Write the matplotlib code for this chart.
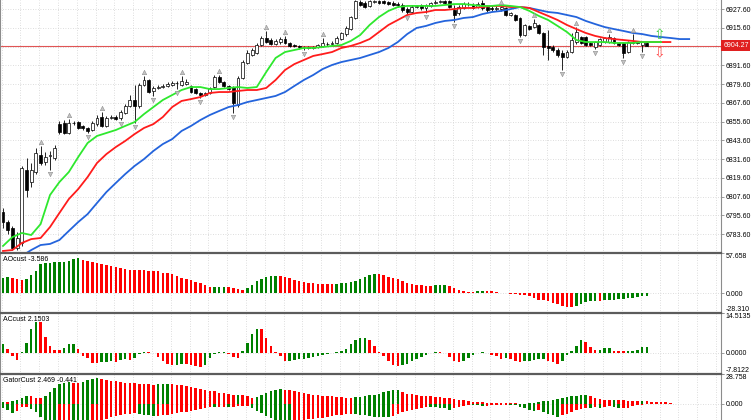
import numpy as np
import matplotlib.pyplot as plt
from matplotlib.transforms import blended_transform_factory

plt.rcParams['font.family'] = ['Liberation Sans', 'DejaVu Sans']

# ---------------- data ----------------
opens = [6797.7, 6791.3, 6787.5, 6774.7, 6777.9, 6824.6, 6816.9, 6823.3, 6834.2, 6829.7,
         6833.6, 6832.3, 6854.0, 6854.7, 6848.3, 6854.7, 6855.3, 6852.8, 6851.5, 6850.2,
         6854.0, 6858.5, 6852.8, 6857.9, 6858.5, 6857.9, 6861.1, 6865.6, 6869.4, 6865.6,
         6879.0, 6882.2, 6875.2, 6877.1, 6877.7, 6878.4, 6879.0, 6880.3, 6879.0, 6879.6,
         6878.4, 6876.4, 6873.9, 6872.6, 6873.9, 6877.7, 6884.1, 6880.9, 6878.4, 6877.7,
         6866.2, 6883.5, 6893.1, 6898.2, 6899.5, 6904.6, 6909.1, 6907.8, 6905.2, 6906.5,
         6908.4, 6905.9, 6904.6, 6904.0, 6903.3, 6903.3, 6902.7, 6903.3, 6904.0, 6905.2,
         6905.2, 6905.9, 6908.4, 6911.6, 6914.8, 6921.9, 6932.1, 6931.5, 6929.6, 6932.1,
         6932.8, 6932.8, 6932.1, 6931.5, 6930.8, 6930.2, 6927.6, 6925.7, 6928.9, 6930.2,
         6928.3, 6929.6, 6931.5, 6932.1, 6932.8, 6932.8, 6927.0, 6925.1, 6928.3, 6930.8,
         6930.2, 6928.9, 6931.5, 6928.9, 6928.3, 6927.6, 6927.6, 6928.3, 6923.8, 6923.8,
         6921.9, 6911.0, 6916.8, 6916.1, 6917.4, 6912.3, 6904.0, 6903.3, 6901.4, 6899.5,
         6896.9, 6900.1, 6906.5, 6909.7, 6909.7, 6905.9, 6903.3, 6904.6, 6906.5, 6906.5,
         6909.1, 6905.9, 6905.9, 6900.1, 6905.9, 6906.5, 6904.6, 6905.9]
highs = [6800.3, 6792.6, 6788.8, 6784.9, 6827.2, 6832.3, 6829.1, 6838.7, 6840.0, 6836.1,
         6836.8, 6840.6, 6856.0, 6856.6, 6857.2, 6856.0, 6856.0, 6853.4, 6852.1, 6856.0,
         6859.8, 6861.7, 6859.2, 6859.8, 6859.8, 6863.0, 6866.8, 6872.6, 6879.0, 6880.3,
         6884.8, 6882.8, 6878.4, 6879.0, 6879.6, 6880.9, 6881.6, 6881.6, 6884.8, 6882.8,
         6879.0, 6877.1, 6874.5, 6874.5, 6877.7, 6885.4, 6885.4, 6881.6, 6879.0, 6878.4,
         6884.8, 6895.0, 6901.4, 6902.7, 6905.9, 6910.4, 6913.6, 6909.1, 6908.4, 6909.7,
         6910.4, 6906.5, 6905.2, 6904.6, 6904.0, 6904.0, 6904.0, 6905.2, 6909.1, 6906.5,
         6907.2, 6910.4, 6912.9, 6916.8, 6923.2, 6933.4, 6933.4, 6932.8, 6933.4, 6933.4,
         6933.4, 6933.4, 6932.8, 6932.8, 6932.1, 6931.5, 6928.9, 6930.2, 6930.2, 6930.8,
         6930.8, 6932.1, 6933.4, 6933.4, 6933.4, 6933.4, 6930.2, 6930.2, 6932.1, 6932.1,
         6931.5, 6932.1, 6933.4, 6930.2, 6929.6, 6929.6, 6929.6, 6928.9, 6925.7, 6924.4,
         6922.5, 6918.0, 6917.4, 6921.2, 6918.0, 6912.9, 6914.2, 6904.6, 6902.7, 6901.4,
         6901.4, 6912.3, 6916.1, 6910.4, 6910.4, 6906.5, 6907.2, 6909.1, 6909.7, 6911.6,
         6909.7, 6906.5, 6906.5, 6907.2, 6911.6, 6907.2, 6907.2, 6906.5]
lows = [6787.5, 6783.6, 6773.4, 6773.4, 6776.0, 6807.3, 6813.7, 6822.0, 6827.8, 6827.8,
        6824.6, 6831.0, 6847.6, 6847.6, 6847.6, 6853.4, 6850.8, 6850.2, 6848.3, 6849.6,
        6852.8, 6852.1, 6852.1, 6857.2, 6856.6, 6856.6, 6860.4, 6864.9, 6854.7, 6864.3,
        6878.4, 6873.9, 6872.0, 6876.4, 6877.1, 6877.7, 6878.4, 6876.4, 6878.4, 6879.0,
        6873.9, 6873.2, 6870.7, 6872.0, 6873.2, 6877.1, 6880.3, 6877.7, 6875.8, 6861.1,
        6864.9, 6882.8, 6892.4, 6897.6, 6898.8, 6904.0, 6905.9, 6904.6, 6904.6, 6905.2,
        6905.2, 6903.3, 6903.3, 6902.0, 6901.4, 6902.0, 6902.0, 6902.7, 6903.3, 6904.0,
        6904.6, 6905.2, 6907.8, 6910.4, 6914.2, 6921.2, 6929.6, 6928.3, 6928.9, 6931.5,
        6930.8, 6930.8, 6930.2, 6929.6, 6928.9, 6925.7, 6924.4, 6925.1, 6928.3, 6927.0,
        6925.1, 6928.9, 6930.8, 6931.5, 6930.8, 6928.3, 6919.3, 6923.8, 6927.6, 6929.6,
        6927.6, 6928.3, 6927.0, 6925.7, 6926.4, 6926.4, 6926.4, 6923.2, 6923.2, 6920.0,
        6909.7, 6910.4, 6914.2, 6915.5, 6911.6, 6898.2, 6895.0, 6900.1, 6896.9, 6888.6,
        6896.3, 6899.5, 6905.2, 6905.2, 6904.0, 6904.0, 6902.0, 6904.0, 6905.9, 6905.9,
        6905.2, 6904.0, 6896.3, 6899.5, 6905.2, 6905.2, 6900.1, 6904.0]
closes = [6791.3, 6786.2, 6774.7, 6781.1, 6825.9, 6811.8, 6824.6, 6835.5, 6829.1, 6832.9,
          6834.2, 6838.7, 6848.9, 6848.3, 6854.7, 6854.5, 6851.5, 6851.5, 6849.6, 6854.7,
          6857.9, 6852.8, 6857.9, 6858.5, 6857.2, 6861.7, 6865.6, 6869.4, 6865.6, 6879.0,
          6882.2, 6874.5, 6877.1, 6877.7, 6878.4, 6879.6, 6880.3, 6880.2, 6881.6, 6880.9,
          6874.5, 6873.9, 6872.6, 6873.9, 6877.1, 6884.1, 6880.9, 6878.4, 6876.4, 6867.5,
          6883.5, 6893.7, 6899.5, 6901.4, 6904.6, 6909.1, 6906.5, 6905.2, 6907.2, 6908.4,
          6905.9, 6904.0, 6904.0, 6903.3, 6903.2, 6902.7, 6903.3, 6904.6, 6905.9, 6905.3,
          6905.9, 6909.1, 6912.3, 6915.5, 6922.5, 6932.8, 6930.2, 6928.9, 6932.8, 6932.8,
          6931.5, 6931.5, 6930.8, 6930.2, 6930.2, 6927.0, 6925.7, 6928.9, 6929.6, 6928.3,
          6930.2, 6931.5, 6932.1, 6932.8, 6931.5, 6928.9, 6923.8, 6928.9, 6930.8, 6930.7,
          6928.3, 6930.8, 6928.3, 6927.0, 6927.6, 6928.3, 6928.9, 6923.8, 6925.1, 6920.6,
          6911.0, 6917.4, 6914.8, 6918.7, 6912.3, 6903.3, 6902.7, 6901.4, 6898.2, 6896.9,
          6900.1, 6907.8, 6912.9, 6905.9, 6904.6, 6904.6, 6906.5, 6908.4, 6909.1, 6909.7,
          6905.9, 6904.6, 6899.5, 6906.5, 6906.5, 6905.9, 6906.5, 6904.27]

fractal_up = [8, 14, 21, 30, 38, 46, 56, 60, 68, 106, 113, 122, 129, 134]
fractal_dn = [10, 18, 25, 28, 32, 37, 42, 49, 64, 86, 90, 96, 110, 119, 126, 132, 136]

# alligator lines, sampled every 2nd bar (lips/teeth from bar 0, jaw from bar 4)
lips = [6776.0, 6781.7, 6784.3, 6783.0, 6790.0, 6808.6, 6816.9, 6823.3, 6832.9, 6841.9,
        6846.4, 6848.3, 6850.2, 6852.8, 6855.3, 6860.4, 6864.9, 6869.4, 6872.6, 6875.8,
        6877.7, 6877.7, 6876.4, 6876.4, 6877.1, 6877.7, 6877.1, 6877.7, 6887.3, 6896.3,
        6900.1, 6901.4, 6902.7, 6902.7, 6903.3, 6904.0, 6904.6, 6907.2, 6911.0, 6917.4,
        6922.5, 6926.4, 6928.9, 6929.6, 6929.6, 6929.6, 6929.6, 6930.2, 6930.8, 6930.8,
        6930.2, 6929.6, 6929.6, 6930.2, 6929.6, 6928.9, 6926.4, 6923.2, 6920.6, 6916.8,
        6912.9, 6907.8, 6906.5, 6906.5, 6906.5, 6905.9, 6905.9, 6905.9, 6906.5, 6906.5,
        6906.5]
teeth = [6772.8, 6773.4, 6777.9, 6780.4, 6781.1, 6788.1, 6797.1, 6806.0, 6812.4, 6820.1,
         6829.1, 6834.8, 6839.3, 6843.2, 6847.6, 6851.5, 6854.0, 6858.5, 6864.9, 6868.8,
         6870.0, 6871.3, 6873.9, 6874.5, 6874.5, 6875.2, 6875.8, 6875.8, 6877.1, 6882.2,
         6888.6, 6892.4, 6895.0, 6897.6, 6898.8, 6900.1, 6902.7, 6904.0, 6905.9, 6908.4,
         6912.9, 6917.4, 6920.6, 6923.8, 6925.1, 6925.7, 6927.0, 6927.0, 6927.6, 6928.3,
         6928.3, 6928.9, 6929.6, 6929.6, 6928.9, 6928.9, 6928.3, 6925.7, 6923.2, 6920.6,
         6917.4, 6914.8, 6912.3, 6910.4, 6909.1, 6908.4, 6907.8, 6907.2, 6906.5, 6906.5,
         6906.5, 6906.5]
jaw = [6769.6, 6773.4, 6776.6, 6777.3, 6779.8, 6785.6, 6791.3, 6796.4, 6803.5, 6810.5,
       6816.3, 6822.0, 6827.2, 6831.6, 6836.8, 6841.2, 6844.4, 6849.6, 6852.8, 6856.6,
       6859.8, 6862.4, 6864.9, 6866.2, 6868.1, 6869.4, 6870.7, 6872.0, 6874.5, 6878.4,
       6882.2, 6885.4, 6889.2, 6891.8, 6893.7, 6895.0, 6896.3, 6898.2, 6900.1, 6902.7,
       6906.5, 6911.6, 6915.5, 6916.8, 6918.7, 6920.0, 6920.6, 6921.9, 6922.5, 6924.4,
       6925.7, 6926.4, 6927.6, 6928.9, 6928.3, 6927.0, 6925.7, 6925.1, 6923.8, 6922.5,
       6920.0, 6918.0, 6916.1, 6914.8, 6913.6, 6912.3, 6911.6, 6910.4, 6909.7, 6909.1,
       6908.4, 6908.4]

ao = [22.3, 23.7, 22.3, 19.8, 18.9, 20.8, 25.7, 32.0, 41.7, 43.1,
      43.5, 44.1, 44.3, 45.1, 46.6, 49.0, 50.0, 48.0, 46.1, 45.1,
      43.1, 41.7, 40.2, 39.3, 38.3, 36.3, 34.4, 33.4, 32.9, 32.7,
      32.6, 32.5, 32.4, 31.5, 29.5, 28.6, 27.1, 24.7, 22.3, 20.8,
      18.9, 15.9, 14.0, 12.5, 9.1, 9.3, 9.5, 9.6, 9.4, 7.7,
      6.2, 5.2, 7.7, 12.5, 17.4, 20.8, 23.7, 24.7, 24.8, 24.6,
      23.2, 21.8, 18.9, 17.4, 15.9, 15.0, 14.0, 13.9, 13.0, 12.9,
      12.8, 13.0, 14.0, 15.0, 15.9, 17.4, 19.8, 23.7, 25.7, 27.6,
      27.1, 25.7, 23.7, 21.8, 19.8, 16.9, 15.0, 13.0, 12.1, 11.1,
      10.8, 10.6, 11.1, 11.6, 11.8, 10.1, 7.7, 5.2, 2.8, 2.3,
      1.4, 2.8, 3.3, 3.1, 2.8, 1.4, 0.4, -0.1, -0.6, -1.1,
      -2.0, -3.0, -4.5, -6.9, -9.3, -10.3, -11.8, -14.2, -15.6, -18.1,
      -19.0, -20.0, -18.1, -15.1, -13.2, -11.8, -11.3, -11.8, -10.3, -9.3,
      -9.1, -8.8, -8.4, -7.4, -6.4, -5.4, -4.6, -3.6]
ac = [3.0, 1.4, -1.4, -2.6, 0.2, 3.6, 8.8, 11.4, 11.3, 5.8,
      2.4, 1.1, 0.9, 1.7, 3.0, 3.3, 1.4, -1.1, -2.0, -3.8,
      -3.9, -3.6, -3.3, -3.2, -3.4, -2.8, -2.5, -2.8, -2.0, -0.6,
      0.2, 0.1, -0.2, -1.5, -3.0, -4.3, -4.6, -4.4, -4.1, -4.3,
      -4.6, -5.0, -5.3, -4.5, -1.8, -0.6, 0.2, 0.4, -0.6, -1.7,
      -1.8, 0.6, 3.5, 6.8, 8.8, 8.6, 5.5, 2.3, 0.2, -1.2,
      -3.0, -2.9, -2.8, -2.5, -2.3, -2.0, -1.7, -1.2, -0.8, -0.4,
      -0.3, 0.2, 0.5, 1.5, 3.0, 4.6, 5.3, 5.5, 4.8, 2.4,
      0.1, -1.3, -3.0, -4.5, -4.8, -4.6, -4.0, -3.0, -2.2, -1.5,
      -1.0, -0.3, 0.4, 0.1, -0.3, -1.5, -3.0, -3.3, -3.0, -2.0,
      -0.8, 0.0, 0.3, -0.2, -0.8, -1.3, -2.3, -2.0, -2.3, -3.0,
      -3.4, -3.2, -3.0, -2.8, -2.4, -2.2, -3.0, -3.4, -4.3, -3.0,
      -1.0, 0.5, 2.4, 4.6, 3.8, 2.2, 0.8, 0.9, 1.6, 1.7,
      0.7, 0.6, 0.5, 0.55, 0.7, 0.8, 2.1, 2.15]
gator_up = [2.3, 2.0, 2.5, 3.5, 6.0, 7.6, 7.3, 5.8, 5.6, 8.0,
            11.5, 15.5, 18.8, 20.4, 20.7, 20.6, 20.5, 21.5, 23.0, 24.3,
            24.7, 24.3, 23.4, 22.5, 21.6, 21.0, 20.5, 20.1, 19.8, 19.5,
            19.2, 19.0, 18.6, 18.9, 19.2, 19.4, 19.1, 18.5, 17.8, 17.0,
            16.3, 15.5, 14.6, 13.8, 12.9, 12.0, 11.0, 10.1, 9.3, 8.6,
            8.8, 8.2, 7.4, 6.0, 6.8, 8.5, 10.3, 12.0, 13.2, 14.0,
            13.6, 13.3, 12.5, 11.6, 10.7, 9.9, 9.1, 8.5, 8.0, 7.6,
            7.2, 6.8, 6.5, 6.0, 5.6, 6.3, 7.0, 7.6, 8.2, 9.0,
            10.0, 11.2, 12.2, 13.0, 13.3, 11.5, 10.0, 9.5, 8.8, 8.0,
            7.6, 7.3, 6.8, 6.3, 5.9, 5.5, 5.0, 4.3, 3.5, 2.8,
            2.3, 1.8, 1.5, 1.3, 1.2, 1.0, 0.9, 0.8, 0.7, 0.6,
            0.4, 0.3, 0.5, 1.3, 2.0, 2.5, 3.3, 4.0, 5.0, 5.8,
            6.6, 7.4, 8.0, 8.3, 8.5, 7.6, 6.0, 4.6, 4.3, 4.0,
            4.2, 3.6, 3.4, 3.2, 3.0, 2.6, 3.0, 2.5, 2.2, 2.0,
            1.9, 1.6, 1.4]
gator_dn = [-4.0, -6.0, -8.3, -7.0, -3.0, -2.6, -5.0, -8.0, -12.0, -16.5,
            -20.0, -21.0, -21.0, -20.0, -19.5, -20.0, -20.5, -21.5, -21.8, -20.0,
            -18.0, -16.0, -14.0, -12.5, -11.5, -10.5, -10.0, -9.5, -9.0, -9.5,
            -10.5, -11.0, -11.5, -11.5, -11.0, -10.5, -9.5, -8.5, -8.0, -7.5,
            -6.5, -5.5, -4.5, -3.5, -3.0, -3.3, -3.0, -2.6, -3.0, -2.5,
            -2.3, -2.0, -1.6, -4.0, -6.5, -9.0, -11.5, -13.5, -15.0, -15.5,
            -16.0, -16.5, -16.3, -15.8, -15.0, -14.5, -14.0, -13.5, -13.0, -12.3,
            -11.5, -11.0, -10.3, -9.6, -9.2, -9.8, -10.5, -11.0, -11.5, -12.0,
            -12.3, -12.6, -12.8, -11.2, -9.5, -7.8, -6.6, -5.4, -4.4, -3.4,
            -2.7, -2.9, -3.1, -3.5, -4.3, -5.3, -4.3, -2.7, -1.7, -1.0,
            -1.1, -1.2, -1.9, -1.5, -1.0, -0.8, -0.6, -0.5, -0.6, -1.2,
            -2.5, -4.0, -6.0, -6.6, -6.0, -7.6, -9.3, -11.0, -12.0, -11.0,
            -9.3, -7.6, -5.3, -4.5, -3.5, -3.7, -3.3, -3.4, -2.6, -2.3,
            -3.3, -4.3, -4.3, -3.6, -2.0, -1.2, -0.8, -0.441]

price_ticks = [6927.60, 6915.60, 6891.60, 6879.60, 6867.60, 6855.60, 6843.60,
               6831.60, 6819.60, 6807.60, 6795.60, 6783.60]
price_grid = [6927.60, 6915.60, 6903.60, 6891.60, 6879.60, 6867.60, 6855.60,
              6843.60, 6831.60, 6819.60, 6807.60, 6795.60, 6783.60]
last_price = 6904.27
signal_bar = 139.6
signal_up_price = 6911.3
signal_dn_price = 6899.8

ao_label, ao_range = 'AOcust -3.586', (-28.310, 57.658)
ac_label, ac_range = 'ACcust 2.1503', (-7.8122, 14.5135)
gator_label, gator_range = 'GatorCust 2.469 -0.441', (-15.34, 28.758)
ao_ticks = [57.658, 0.0, -28.310]
ao_tick_labels = ['57.658', '0.000', '-28.310']
ac_ticks = [14.5135, 0.0, -7.8122]
ac_tick_labels = ['14.5135', '0.0000', '-7.8122']
gator_ticks = [28.758, 0.0]
gator_tick_labels = ['28.758', '0.000']

# ---------------- figure ----------------
W, H = 752, 420
fig = plt.figure(figsize=(W / 100, H / 100), dpi=100)
fig.patch.set_facecolor('white')
right = 721 / W

def add_panel(top, bottom):
    return fig.add_axes([0, 1 - bottom / H, right, (bottom - top) / H])

ax = add_panel(0, 253)
ax_ao = add_panel(253, 313)
ax_ac = add_panel(313, 374)
ax_gt = add_panel(374, 420)

XLIM = (-0.64, 152.77)
grid_x = np.arange(0, 40) * 4 - 0.3
GREEN, RED = '#008000', '#ff0000'
LABEL_FS = 5.0


def style(a, ylim, ticks, labels, separator):
    a.set_xlim(*XLIM)
    a.set_ylim(*ylim)
    a.set_xticks([])
    a.spines['bottom'].set_visible(False)
    a.spines['left'].set_color('#8c8c8c')
    a.spines['left'].set_linewidth(0.8)
    a.spines['right'].set_color('#8c8c8c')
    a.spines['right'].set_linewidth(0.8)
    if separator:
        a.spines['top'].set_color('#5c5c5c')
        a.spines['top'].set_linewidth(1.6)
    else:
        a.spines['top'].set_visible(False)
    a.yaxis.tick_right()
    a.set_yticks(ticks, labels)
    a.tick_params(axis='y', length=2.5, width=0.6, color='#8c8c8c', pad=1.0,
                  labelsize=LABEL_FS, labelcolor='black')
    for gx in grid_x:
        a.axvline(gx, color='#d2d2d2', lw=0.6, ls=(0, (1, 2)), zorder=0)


def rise_colors(vals, use_abs=False):
    v = np.abs(vals) if use_abs else np.asarray(vals)
    cols = [GREEN]
    for i in range(1, len(v)):
        cols.append(GREEN if v[i] > v[i - 1] else RED)
    return cols

# ---- main price panel ----
style(ax, (6771.5, 6933.4), price_ticks, [f'{p:.2f}' for p in price_ticks], False)
for p in price_grid:
    ax.axhline(p, color='#d2d2d2', lw=0.6, ls=(0, (1, 2)), zorder=0)

o, h, l, c = map(np.asarray, (opens, highs, lows, closes))
idx = np.arange(len(c))
bull = c >= o
ax.vlines(idx, l, h, color='black', lw=0.6, zorder=3)
ax.bar(idx, np.maximum(np.abs(c - o), 0.3), bottom=np.minimum(o, c), width=0.62,
       color=np.where(bull, 'white', 'black'), edgecolor='black', linewidth=0.5, zorder=4)

ax.axhline(last_price, color='#e05555', lw=0.8, zorder=2)

line_bars = np.arange(0, 147, 2)
ax.plot(line_bars[2:2 + len(jaw)], jaw, color='#2464dc', lw=1.3, zorder=5)
ax.plot(line_bars[:len(teeth)], teeth, color='#ff1c1c', lw=1.3, zorder=5)
ax.plot(line_bars[:len(lips)], lips, color='#2ee82e', lw=1.3, zorder=5)

fu = np.array(fractal_up)
fd = np.array(fractal_dn)
ax.scatter(fu, h[fu] + 2.8, marker='^', s=10, c='#c4c4c4', edgecolors='#8e8e8e',
           linewidths=0.4, zorder=6)
ax.scatter(fd, l[fd] - 2.8, marker='v', s=10, c='#c4c4c4', edgecolors='#8e8e8e',
           linewidths=0.4, zorder=6)

ax.text(signal_bar, signal_up_price, '\u21e7', color='#44cc44', fontsize=10,
        family='DejaVu Sans', ha='center', va='center', zorder=7)
ax.text(signal_bar, signal_dn_price, '\u21e9', color='#ff4a4a', fontsize=10,
        family='DejaVu Sans', ha='center', va='center', zorder=7)

tr = blended_transform_factory(ax.transAxes, ax.transData)
ax.text(1.003, last_price, f'{last_price:.2f}', transform=tr, ha='left', va='center',
        fontsize=LABEL_FS, color='white', clip_on=False, zorder=8,
        bbox=dict(boxstyle='square,pad=0.25', fc='#e02020', ec='none'))

# ---- AO ----
style(ax_ao, ao_range, ao_ticks, ao_tick_labels, True)
ax_ao.axhline(0, color='#d2d2d2', lw=0.6, ls=(0, (1, 2)), zorder=0)
ax_ao.bar(np.arange(len(ao)), ao, width=0.55, color=rise_colors(ao), zorder=3)
ax_ao.text(0.004, 0.95, ao_label, transform=ax_ao.transAxes, ha='left', va='top',
           fontsize=LABEL_FS)

# ---- AC ----
style(ax_ac, ac_range, ac_ticks, ac_tick_labels, True)
ax_ac.axhline(0, color='#d2d2d2', lw=0.6, ls=(0, (1, 2)), zorder=0)
ax_ac.bar(np.arange(len(ac)), ac, width=0.55, color=rise_colors(ac), zorder=3)
ax_ac.text(0.004, 0.95, ac_label, transform=ax_ac.transAxes, ha='left', va='top',
           fontsize=LABEL_FS)

# ---- Gator ----
style(ax_gt, gator_range, gator_ticks, gator_tick_labels, True)
ax_gt.axhline(0, color='#d2d2d2', lw=0.6, ls=(0, (1, 2)), zorder=0)
ax_gt.bar(np.arange(len(gator_up)), gator_up, width=0.55,
          color=rise_colors(gator_up, True), zorder=3)
ax_gt.bar(np.arange(len(gator_dn)), gator_dn, width=0.55,
          color=rise_colors(gator_dn, True), zorder=3)
ax_gt.text(0.004, 0.94, gator_label, transform=ax_gt.transAxes, ha='left', va='top',
           fontsize=LABEL_FS)

for a in (ax_ao, ax_ac, ax_gt):
    labels = a.get_yticklabels()
    labels[0].set_va('top')
    if len(labels) > 2:
        labels[-1].set_va('bottom')

fig.savefig('out.png', dpi=100)
